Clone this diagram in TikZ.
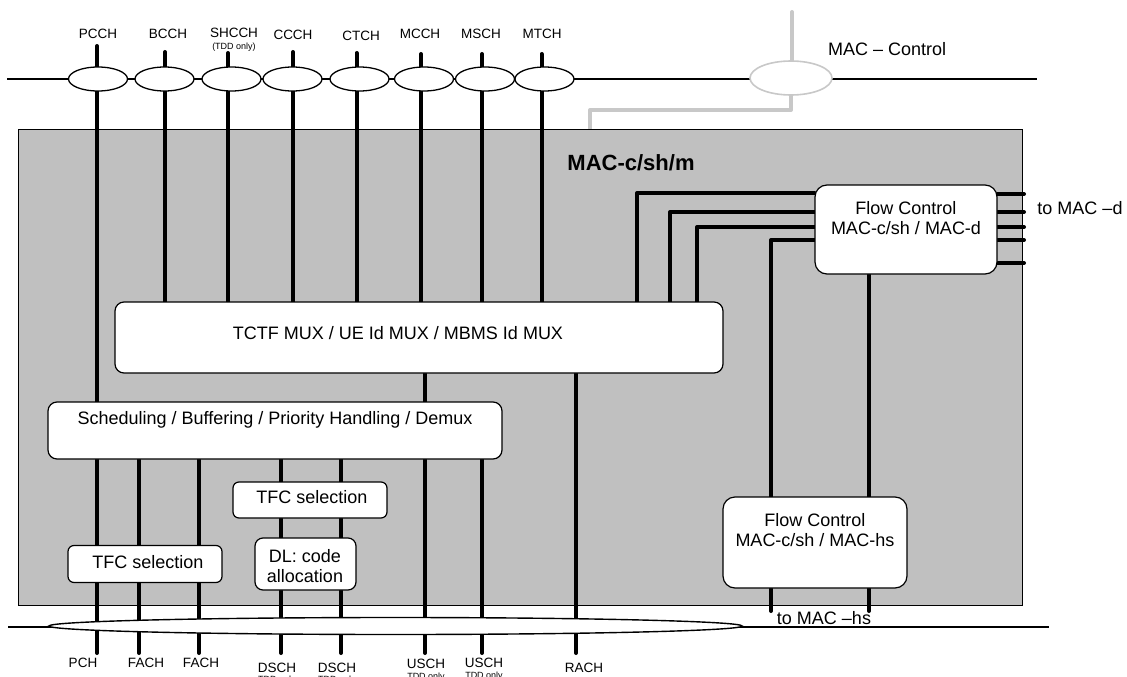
\documentclass[tikz,border=0pt]{standalone}
\usepackage{fontspec}
\setmainfont{Liberation Sans}
\usetikzlibrary{shapes.geometric}
\pgfdeclarelayer{bg}
\pgfdeclarelayer{lines}
\pgfsetlayers{bg,lines,main}
\definecolor{boxgray}{HTML}{C0C0C0}
\definecolor{macgray}{HTML}{C8C8C8}
\begin{document}
\begin{tikzpicture}[x=1pt,y=-1pt,
  chan/.style={line width=4pt, line cap=round, line join=round},
  gline/.style={line width=4pt, draw=macgray, line cap=round, line join=round},
  thinline/.style={line width=1.4pt},
  chell/.style={ellipse, draw, fill=white, line width=1.3pt, minimum width=59pt, minimum height=24pt, inner sep=0pt},
  fbox/.style={draw, fill=white, rounded corners=9pt, line width=1.2pt, inner sep=0pt},
  sbox/.style={draw, fill=white, rounded corners=6pt, line width=1.2pt, inner sep=0pt},
  lbl/.style={font=\fontsize{13.5}{16}\selectfont, inner sep=0pt},
  tinylbl/.style={font=\fontsize{9}{10}\selectfont, inner sep=0pt},
  txt/.style={font=\fontsize{18}{21}\selectfont, inner sep=0pt, align=center},
]
\useasboundingbox (0,0) rectangle (1127,677);

% ---------- background: main box and horizontal lines
\begin{pgfonlayer}{bg}
  \node[draw, fill=boxgray, line width=1pt, minimum width=1004pt, minimum height=476pt, inner sep=0pt] (mbox) at (520,367) {};
  \coordinate (tlL) at (7,79);
  \coordinate (tlR) at (1037,79);
  \draw[thinline] (tlL) -- (tlR);
  \coordinate (blL) at (8,627);
  \coordinate (blR) at (1049,627);
  \draw[thinline] (blL) -- (blR);
\end{pgfonlayer}

% ---------- top channel ellipses and labels
\node[chell] (e1) at (98,79) {};
\node[chell] (e2) at (164.5,79) {};
\node[chell] (e3) at (231.5,79) {};
\node[chell] (e4) at (292.5,79) {};
\node[chell] (e5) at (359.5,79) {};
\node[chell] (e6) at (424,79) {};
\node[chell] (e7) at (485,79) {};
\node[chell] (e8) at (544.5,79) {};

\node[lbl] (l1) at (98,34) {PCCH};
\node[lbl] (l2) at (168,34) {BCCH};
\node[lbl] (l3) at (234,33) {SHCCH};
\node[tinylbl] (l3b) at (234,47) {(TDD only)};
\node[lbl] (l4) at (293,35) {CCCH};
\node[lbl] (l5) at (361,36) {CTCH};
\node[lbl] (l6) at (420,34) {MCCH};
\node[lbl] (l7) at (481,34) {MSCH};
\node[lbl] (l8) at (542,34) {MTCH};

% ---------- MAC control
\node[ellipse, draw=macgray, fill=white, line width=1.6pt, minimum width=82pt, minimum height=34pt, inner sep=0pt] (macc) at (791,78) {};
\node[txt, anchor=west] (macct) at (828,49) {MAC -- Control};

% ---------- main box title
\node[font=\fontsize{22}{26}\selectfont\bfseries, inner sep=0pt] (title) at (631,163) {MAC-c/sh/m};

% ---------- functional boxes
\node[fbox, minimum width=608pt, minimum height=71pt] (tctf) at (419,337.5) {};
\node[txt] (tctft) at (398,333) {TCTF MUX / UE Id MUX / MBMS Id MUX};

\node[fbox, minimum width=454pt, minimum height=57pt] (sched) at (275,430.5) {};
\node[txt] (schedt) at (275,420) {Scheduling / Buffering / Priority Handling / Demux};

\node[sbox, minimum width=154pt, minimum height=37pt] (tfcl) at (145,564) {};
\node[txt] (tfclt) at (148,562) {TFC selection};

\node[sbox, minimum width=154pt, minimum height=36pt] (tfcm) at (310,500) {};
\node[txt] (tfcmt) at (312,497) {TFC selection};

\node[sbox, rounded corners=8pt, minimum width=101pt, minimum height=52pt] (dl) at (305.5,564) {};
\node[txt] (dlt1) at (305,556) {DL: code};
\node[txt] (dlt2) at (305,576) {allocation};

\node[fbox, rounded corners=12pt, minimum width=182pt, minimum height=89pt] (fcd) at (906,229.5) {};
\node[txt] (fcdt1) at (906,208) {Flow Control};
\node[txt] (fcdt2) at (906,228) {MAC-c/sh / MAC-d};

\node[fbox, rounded corners=12pt, minimum width=184pt, minimum height=91pt] (fchs) at (815,542.5) {};
\node[txt] (fchst1) at (815,520) {Flow Control};
\node[txt] (fchst2) at (815,540) {MAC-c/sh / MAC-hs};

\node[txt] (tomacd) at (1080,208) {to MAC --d};
\node[txt] (tomachs) at (824,618) {to MAC --hs};

% ---------- bottom ellipse and labels
\node[ellipse, draw, fill=white, line width=1.4pt, minimum width=693pt, minimum height=17pt, inner sep=0pt] (bell) at (395.5,626) {};

\node[lbl] (b1) at (83,663) {PCH};
\node[lbl] (b2) at (146,663) {FACH};
\node[lbl] (b3) at (201,663) {FACH};
\node[lbl] (b4) at (277,668) {DSCH};
\node[tinylbl] (b4b) at (277,680) {TDD only};
\node[lbl] (b5) at (337,668) {DSCH};
\node[tinylbl] (b5b) at (337,680) {TDD only};
\node[lbl] (b6) at (426,664) {USCH};
\node[tinylbl] (b6b) at (426,677) {TDD only};
\node[lbl] (b7) at (484,663) {USCH};
\node[tinylbl] (b7b) at (484,676.5) {TDD only};
\node[lbl] (b8) at (584,668) {RACH};

% ---------- coordinates for line ends
\coordinate (pcchT) at (97,46);
\coordinate (bcchT) at (165,52);
\coordinate (shcchT) at (228,53);
\coordinate (ccchT) at (293,52);
\coordinate (ctchT) at (356.5,53);
\coordinate (mcchT) at (421,54);
\coordinate (mschT) at (482,54);
\coordinate (mtchT) at (541.5,54);

\coordinate (pchB) at (97,653);
\coordinate (fach1B) at (139,653);
\coordinate (fach2B) at (199,653);
\coordinate (dsch1B) at (281,653);
\coordinate (dsch2B) at (341,653);
\coordinate (usch1B) at (425,653);
\coordinate (usch2B) at (482,653);
\coordinate (rachB) at (576,653);

\coordinate (k1) at (637,193);
\coordinate (k2) at (670,212);
\coordinate (k3) at (697,227);
\coordinate (k4) at (771,240);
\coordinate (v2) at (869,300);
\coordinate (hs1) at (771,611);
\coordinate (hs2) at (869,611);

\coordinate (r1) at (1024,194);
\coordinate (r2) at (1024,212);
\coordinate (r3) at (1024,227);
\coordinate (r4) at (1024,240);
\coordinate (r5) at (1024,263);

\coordinate (gtop) at (792,12);
\coordinate (gbend) at (590,110);

% ---------- connectors (drawn beneath the boxes)
\begin{pgfonlayer}{lines}
  \draw[chan] (pcchT) -- (pchB);
  \draw[chan] (bcchT) -- (bcchT |- tctf.north);
  \draw[chan] (shcchT) -- (shcchT |- tctf.north);
  \draw[chan] (ccchT) -- (ccchT |- tctf.north);
  \draw[chan] (ctchT) -- (ctchT |- tctf.north);
  \draw[chan] (mcchT) -- (mcchT |- tctf.north);
  \draw[chan] (mschT) -- (mschT |- tctf.north);
  \draw[chan] (mtchT) -- (mtchT |- tctf.north);

  \draw[chan] (usch1B |- tctf.south) -- (usch1B);
  \draw[chan] (rachB |- tctf.south) -- (rachB);
  \draw[chan] (fach1B |- sched.south) -- (fach1B);
  \draw[chan] (fach2B |- sched.south) -- (fach2B);
  \draw[chan] (dsch1B |- sched.south) -- (dsch1B);
  \draw[chan] (dsch2B |- sched.south) -- (dsch2B);
  \draw[chan] (usch2B |- sched.south) -- (usch2B);

  \draw[chan] (k1 |- tctf.north) -- (k1) -- (k1 -| fcd.west);
  \draw[chan] (k2 |- tctf.north) -- (k2) -- (k2 -| fcd.west);
  \draw[chan] (k3 |- tctf.north) -- (k3) -- (k3 -| fcd.west);
  \draw[chan] (k4 |- fchs.north) -- (k4) -- (k4 -| fcd.west);
  \draw[chan] (v2 |- fcd.south) -- (v2 |- fchs.north);
  \draw[chan] (hs1 |- fchs.south) -- (hs1);
  \draw[chan] (hs2 |- fchs.south) -- (hs2);

  \draw[chan] (r1 -| fcd.east) -- (r1);
  \draw[chan] (r2 -| fcd.east) -- (r2);
  \draw[chan] (r3 -| fcd.east) -- (r3);
  \draw[chan] (r4 -| fcd.east) -- (r4);
  \draw[chan] (r5 -| fcd.east) -- (r5);

  \draw[gline] (gtop) -- (gtop |- macc.center);
  \draw[gline, line cap=butt] (macc.center) |- (gbend) -- (gbend |- mbox.north);
\end{pgfonlayer}
\end{tikzpicture}
\end{document}
